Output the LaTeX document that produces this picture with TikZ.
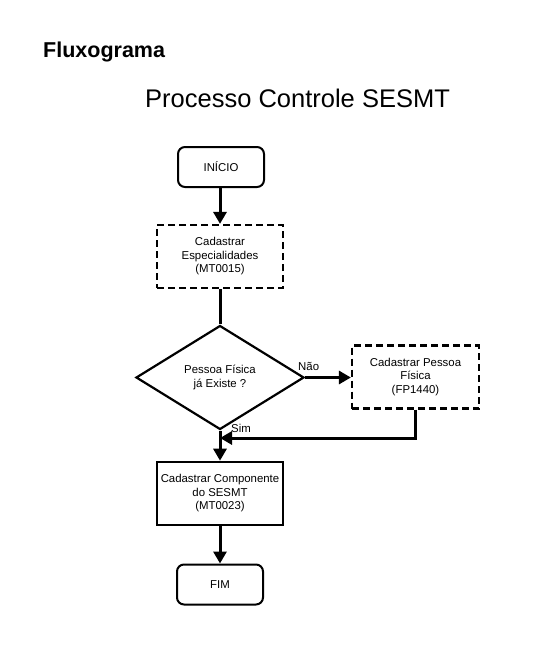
\documentclass[tikz,border=0pt]{standalone}
\usepackage{fontspec}
\setmainfont{Liberation Sans}
\usetikzlibrary{arrows.meta,shapes.geometric}
\begin{document}
\begin{tikzpicture}[x=1pt,y=-1pt,
  every node/.style={font=\fontsize{11.4}{13.5}\selectfont, align=center, inner sep=0pt},
  term/.style={draw, line width=2pt, rounded corners=7pt, minimum width=86pt, minimum height=40pt},
  dbox/.style={draw, line width=2.2pt, dash pattern=on 7pt off 4pt, minimum width=126pt, minimum height=63pt},
  sbox/.style={draw, line width=2.6pt, minimum width=126pt, minimum height=63pt},
  dec/.style={draw, line width=2.2pt, diamond, aspect=1.62, minimum width=168pt, minimum height=104pt},
  conn/.style={line width=3pt, -{Triangle[length=12pt,width=13pt]}},
  thickline/.style={line width=3pt}
]
\useasboundingbox (0,0) rectangle (544,664);
\node[font=\fontsize{21.5}{24}\selectfont\bfseries, anchor=west] (t1) at (43,52) {Fluxograma};
\node[font=\fontsize{25.5}{28}\selectfont, anchor=west] (t2) at (145,98) {Processo Controle SESMT};

\node[term] (ini) at (221,167) {INÍCIO};
\node[dbox] (esp) at (220,256.5) {Cadastrar\\Especialidades\\(MT0015)};
\node[dec] (d) at (220,377.5) {Pessoa Física\\já Existe ?};
\node[dbox, minimum width=127pt] (pf) at (415.5,377) {Cadastrar Pessoa\\Física\\(FP1440)};
\node[sbox] (comp) at (220,493.5) {Cadastrar Componente\\do SESMT\\(MT0023)};
\node[term] (fim) at (220,584.5) {FIM};

\coordinate (j) at (220,438);
\draw[conn] (ini.south -| esp) -- (esp.north);
\draw[thickline] (esp.south) -- (d.north);
\draw[conn] (d.east) -- (pf.west |- d.east);
\node[anchor=west] (nao) at (298,366) {Não};
\draw[conn] (pf.south) |- (j);
\draw[conn] (d.south) -- (comp.north);
\node[anchor=west] (sim) at (231,428) {Sim};
\draw[conn] (comp.south) -- (fim.north);
\end{tikzpicture}
\end{document}
